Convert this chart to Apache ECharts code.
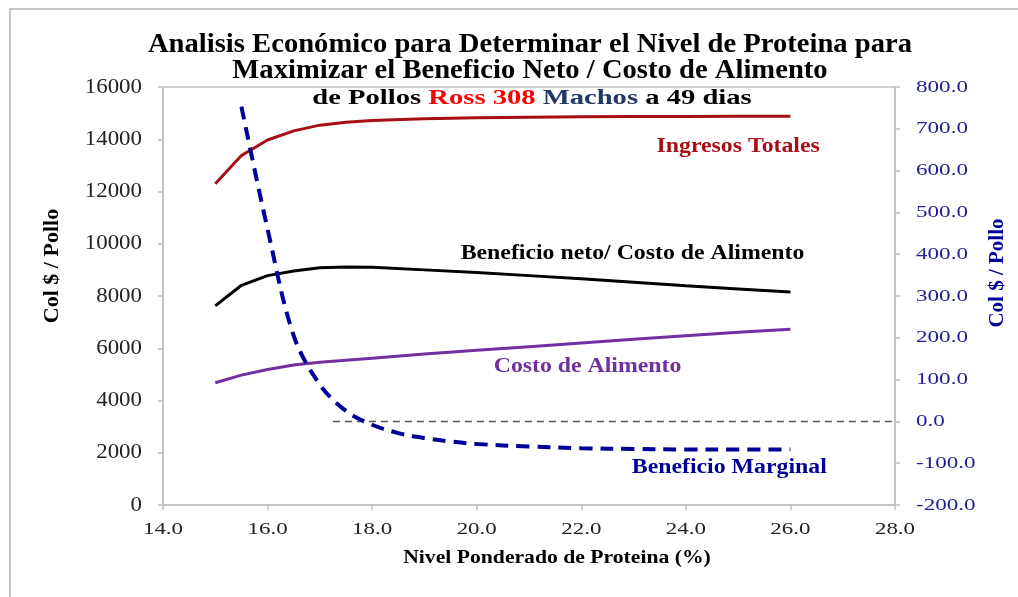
<!DOCTYPE html>
<html>
<head>
<meta charset="utf-8">
<script src="https://cdn.jsdelivr.net/npm/echarts@6/dist/echarts.min.js"></script>
<style>
  html, body { margin: 0; padding: 0; background: #fff; }
  #chart { width: 1018px; height: 597px; }
</style>
</head>
<body>
<div id="chart"></div>
<script>
// Nivel ponderado de proteina (%) for the income / cost curves
const proteina = [15, 15.5, 16, 16.5, 17, 17.5, 18, 19, 20, 21, 22, 23, 24, 25, 26];
// Col $ / Pollo (left axis)
const ingresosTotales = [12300, 13380, 13970, 14320, 14540, 14650, 14720, 14780, 14820, 14840, 14860, 14870, 14870, 14880, 14880];
const costoAlimento   = [4680, 4970, 5190, 5360, 5460, 5540, 5620, 5780, 5920, 6060, 6200, 6340, 6480, 6610, 6730];
const beneficioNeto   = [7620, 8410, 8780, 8960, 9080, 9110, 9100, 9000, 8900, 8780, 8660, 8530, 8390, 8270, 8150];
// Marginal benefit (right axis)
const proteinaMarginal  = [15.5, 16, 16.5, 17, 17.5, 18, 18.5, 19, 19.5, 20, 21, 22, 23, 24, 25, 26];
const beneficioMarginal = [753, 460, 205, 88, 25, -8, -28, -40, -48, -54, -60, -64, -66, -67, -67, -67];
// Zero reference on the right axis
const lineaCeroX = [17.25, 28];
const lineaCeroY = [0, 0];

// Axis ranges and tick labels
const xTicks = [14, 16, 18, 20, 22, 24, 26, 28];
const yLeftTicks = [0, 2000, 4000, 6000, 8000, 10000, 12000, 14000, 16000];
const yRightTicks = [-200, -100, 0, 100, 200, 300, 400, 500, 600, 700, 800];

// Curve captions: [text, x, y, axis index, colour]
const captions = [
  ['Ingresos Totales', 25.0, 13720, 0, '#A50F15'],
  ['Beneficio neto/ Costo de Alimento', 22.98, 9620, 0, '#000000'],
  ['Costo de Alimento', 22.12, 5290, 0, '#7030A0'],
  ['Beneficio Marginal', 24.83, -111, 1, '#000099']
];

const zip = (xs, ys) => xs.map((x, i) => [x, ys[i]]);
const SERIF = '"Liberation Serif", "Times New Roman", serif';

const chart = echarts.init(document.getElementById('chart'), null, { renderer: 'canvas' });

const axisLine = { show: true, lineStyle: { color: '#c0c0c0', width: 1.5 } };
const axisTick = { show: true, length: 5, lineStyle: { color: '#c0c0c0', width: 1.5 } };

chart.setOption({
  backgroundColor: '#fff',
  animation: false,
  grid: { left: 163, right: 123, top: 87, bottom: 92, show: true, borderColor: '#c0c0c0', borderWidth: 1.5 },
  xAxis: {
    type: 'value', min: xTicks[0], max: xTicks[xTicks.length - 1], interval: 2,
    axisLine, axisTick, splitLine: { show: false }, axisLabel: { show: false }
  },
  yAxis: [
    {
      type: 'value', min: yLeftTicks[0], max: yLeftTicks[yLeftTicks.length - 1], interval: 2000, position: 'left',
      axisLine, axisTick, splitLine: { show: false }, axisLabel: { show: false }
    },
    {
      type: 'value', min: yRightTicks[0], max: yRightTicks[yRightTicks.length - 1], interval: 100, position: 'right',
      axisLine, axisTick, splitLine: { show: false }, axisLabel: { show: false }
    }
  ],
  series: [
    {
      name: 'Linea cero', type: 'line', yAxisIndex: 1, data: zip(lineaCeroX, lineaCeroY),
      symbol: 'none', lineStyle: { color: '#555', width: 1.5, type: [7, 5] }, z: 1
    },
    {
      name: 'Ingresos Totales', type: 'line', data: zip(proteina, ingresosTotales),
      symbol: 'none', lineStyle: { color: '#A50F15', width: 3 }
    },
    {
      name: 'Beneficio neto/ Costo de Alimento', type: 'line', data: zip(proteina, beneficioNeto),
      symbol: 'none', lineStyle: { color: '#000', width: 3 }
    },
    {
      name: 'Costo de Alimento', type: 'line', data: zip(proteina, costoAlimento),
      symbol: 'none', lineStyle: { color: '#7030A0', width: 3 }
    },
    {
      name: 'Beneficio Marginal', type: 'line', yAxisIndex: 1, data: zip(proteinaMarginal, beneficioMarginal),
      symbol: 'none', smooth: 0.35, lineStyle: { color: '#000099', width: 4, type: [13, 8] }, z: 5
    }
  ]
});

// Text is laid out as graphic elements so the wide lettering can be stretched horizontally
function label(text, x, y, opts) {
  return {
    type: 'text', silent: true, z: 10,
    x, y,
    scaleX: opts.scaleX || 1,
    rotation: opts.rotation || 0,
    style: {
      text,
      font: (opts.bold ? 'bold ' : '') + opts.size + 'px ' + SERIF,
      fill: opts.color || '#000',
      align: opts.align || 'center',
      verticalAlign: 'middle',
      rich: opts.rich
    }
  };
}

const px = (x, y, axis) => chart.convertToPixel({ xAxisIndex: 0, yAxisIndex: axis }, [x, y]);

const graphics = [
  {
    type: 'rect', silent: true, z: -1,
    shape: { x: 10, y: 9, width: 1020, height: 600 },
    style: { fill: 'none', stroke: '#c4c4c4', lineWidth: 2 }
  },
  // Title
  label('Analisis Económico para Determinar el Nivel de Proteina para', 530, 45,
        { size: 27, bold: true, scaleX: 1.06 }),
  label('Maximizar el Beneficio Neto / Costo de Alimento', 530, 71,
        { size: 27, bold: true, scaleX: 1.06 }),
  {
    type: 'text', silent: true, z: 10, x: 532, y: 99, scaleX: 1.43,
    style: {
      text: '{k|de Pollos }{r|Ross 308 }{m|Machos}{k| a 49 dias}',
      align: 'center', verticalAlign: 'middle',
      rich: {
        k: { font: 'bold 20px ' + SERIF, fill: '#000' },
        r: { font: 'bold 20px ' + SERIF, fill: '#FF0000' },
        m: { font: 'bold 20px ' + SERIF, fill: '#1F3864' }
      }
    }
  },
  // Axis names
  label('Nivel Ponderado de Proteina (%)', 557, 558, { size: 19, bold: true, scaleX: 1.14 }),
  label('Col $ / Pollo', 52, 266, { size: 22, bold: true, rotation: Math.PI / 2 }),
  label('Col $ / Pollo', 998, 273, { size: 21, bold: true, rotation: Math.PI / 2, color: '#000099' })
];

// Tick labels placed on the axes' own tick positions
xTicks.forEach(v => {
  const p = px(v, 0, 0);
  graphics.push(label(v.toFixed(1), p[0], 530, { size: 17, scaleX: 1.35, color: '#222' }));
});
yLeftTicks.forEach(v => {
  const p = px(xTicks[0], v, 0);
  graphics.push(label(String(v), 142, p[1], { size: 21, scaleX: 1.09, align: 'right', color: '#222' }));
});
yRightTicks.forEach(v => {
  const p = px(xTicks[0], v, 1);
  graphics.push(label(v.toFixed(1), 916, p[1], { size: 17.5, scaleX: 1.32, align: 'left', color: '#1f1f8f' }));
});

// Curve captions
captions.forEach(([text, x, y, axisIdx, color]) => {
  const p = px(x, y, axisIdx);
  graphics.push(label(text, p[0], p[1], { size: 20, bold: true, scaleX: 1.19, color }));
});

chart.setOption({ graphic: graphics });
</script>
</body>
</html>
